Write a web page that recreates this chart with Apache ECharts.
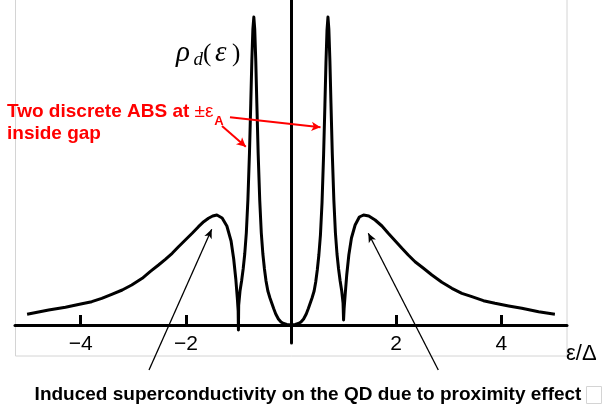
<!DOCTYPE html>
<html><head><meta charset="utf-8">
<script src="https://cdn.jsdelivr.net/npm/echarts@6/dist/echarts.min.js"></script>
<style>html,body{margin:0;padding:0;background:#fff}#c{width:616px;height:410px}</style>
</head><body><div id="c"></div>
<script>
// energy epsilon/Delta
const epsilon = [
 -5.02,-4.61,-4.29,-4.00,-3.79,-3.60,-3.41,-3.21,-3.03,-2.83,-2.68,-2.52,-2.39,-2.26,-2.14,-2.01,-1.88,-1.76,-1.66,-1.57,-1.49,-1.41,
 -1.31,-1.22,-1.14,-1.09,-1.05,-1.02,-1.005,-1.0,-0.995,
 -0.97,-0.94,-0.91,-0.88,-0.85,-0.82,-0.79,-0.765,-0.745,-0.725,-0.707,-0.69,-0.67,-0.65,-0.625,-0.595,-0.565,-0.535,-0.505,-0.475,
 -0.44,-0.40,-0.36,-0.33,-0.29,-0.24,-0.19,-0.14,-0.08,0,
 0.08,0.14,0.19,0.24,0.29,0.33,0.36,0.40,0.44,0.47,0.50,0.53,0.56,0.59,0.62,0.645,0.665,0.685,0.703,
 0.72,0.74,0.76,0.785,0.815,0.845,0.875,0.905,0.935,0.965,0.99,1.0,1.01,
 1.03,1.06,1.10,1.15,1.22,1.30,1.38,1.48,1.60,1.73,1.85,1.98,2.11,2.23,2.36,2.52,2.68,2.87,3.06,3.25,3.44,3.66,3.88,4.14,4.39,4.71,5.02
];
// density of states rho_d(epsilon), arbitrary units
const dos = [
 0.107,0.150,0.177,0.210,0.233,0.267,0.307,0.350,0.400,0.467,0.533,0.600,0.657,0.717,0.783,0.850,0.917,0.983,1.033,1.067,1.090,1.100,
 1.070,0.990,0.840,0.660,0.460,0.260,0.140,-0.050,0.200,
 0.340,0.440,0.560,0.710,0.920,1.250,1.720,2.220,2.640,2.960,3.080,2.960,2.640,2.220,1.720,1.250,0.920,0.710,0.560,0.440,
 0.340,0.270,0.210,0.165,0.110,0.060,0.030,0.015,0.005,0,
 0.005,0.015,0.030,0.060,0.110,0.165,0.210,0.270,0.340,0.430,0.550,0.700,0.900,1.220,1.700,2.200,2.620,2.950,3.080,
 2.960,2.640,2.220,1.720,1.250,0.920,0.710,0.560,0.440,0.340,0.220,0.050,0.160,
 0.300,0.500,0.700,0.870,1.000,1.080,1.100,1.090,1.050,0.990,0.917,0.843,0.767,0.700,0.633,0.567,0.500,0.427,0.367,0.317,0.283,0.243,0.217,0.190,0.167,0.133,0.107
];
const tickValues = [-4, -2, 2, 4];
const tickLabels = {'-4': '\u22124', '-2': '\u22122', '2': '2', '4': '4'};

const chart = echarts.init(document.getElementById('c'));
const curve = epsilon.map((e, i) => [e, dos[i]]);
const sans = '"Liberation Sans", Arial, sans-serif';
const serif = '"Liberation Serif", "Times New Roman", serif';

function txt(x, y, text, size, opts) {
  opts = opts || {};
  return {type: 'text', x: x, y: y, silent: true, z: 10,
    style: {text: text, fontSize: size, fontFamily: opts.family || sans, fontWeight: opts.weight || 'normal',
      fontStyle: opts.style || 'normal', fill: opts.color || '#000', align: 'left', verticalAlign: 'top',
      lineHeight: opts.lineHeight}};
}

chart.setOption({
  animation: false,
  grid: {left: 15, right: 49, top: 0, bottom: 67},
  xAxis: {
    type: 'value', min: -5.25, max: 5.25,
    axisLine: {onZero: true, lineStyle: {color: '#000', width: 3}},
    axisTick: {show: true, inside: true, length: 10, customValues: tickValues, lineStyle: {color: '#000', width: 3}},
    axisLabel: {customValues: tickValues, formatter: v => tickLabels[String(v)], fontSize: 21, color: '#000', margin: -9, fontFamily: sans},
    splitLine: {show: false}
  },
  yAxis: {
    type: 'value', min: -0.18, max: 3.25,
    axisLine: {show: true, onZero: true, lineStyle: {color: '#000', width: 3}},
    axisTick: {show: false}, axisLabel: {show: false}, splitLine: {show: false}
  },
  series: [
    {
      type: 'line', data: curve, showSymbol: false, symbol: 'none', clip: false, silent: true,
      lineStyle: {color: '#000', width: 3, join: 'round'},
      markLine: {
        silent: true, symbol: ['none', 'arrow'], symbolSize: [6, 9], label: {show: false},
        lineStyle: {color: '#000', width: 1.3, type: 'solid'},
        data: [
          [{x: 149, y: 370}, {x: 211.7, y: 229.3}],
          [{x: 438.3, y: 370}, {x: 368.3, y: 233.3}]
        ]
      }
    },
    {
      type: 'line', data: [[0, 0]], showSymbol: false, symbol: 'none', clip: false, silent: true,
      lineStyle: {width: 0, opacity: 0},
      markLine: {
        silent: true, symbol: ['none', 'arrow'], symbolSize: [7, 9], label: {show: false},
        lineStyle: {color: '#ff0000', width: 2, type: 'solid'},
        data: [
          [{x: 222, y: 126}, {x: 245.8, y: 146.7}],
          [{x: 230, y: 117.3}, {x: 320.5, y: 127.3}]
        ]
      }
    }
  ],
  graphic: [
    {type: 'rect', silent: true, z: -1, shape: {x: 15.5, y: -2, width: 551.5, height: 358},
     style: {fill: 'none', stroke: '#d4d4d4', lineWidth: 1}},
    {type: 'rect', silent: true, shape: {x: 586.5, y: 386.5, width: 15, height: 17},
     style: {fill: 'none', stroke: '#d4d4d4', lineWidth: 1}},
    txt(176, 39, '\u03c1', 29, {family: serif, style: 'italic'}),
    txt(193.5, 50.5, 'd', 19, {family: serif, style: 'italic'}),
    txt(203, 42, '(', 25, {family: serif}),
    txt(215, 39, '\u03b5', 29, {family: serif, style: 'italic'}),
    txt(232, 42, ')', 25, {family: serif}),
    txt(7, 100.7, 'Two discrete ABS at\ninside gap', 19, {weight: 'bold', color: '#ff0000', lineHeight: 22}),
    txt(194.5, 102, '\u00b1\u03b5', 19, {color: '#ff0000'}),
    txt(214.3, 115, 'A', 13, {weight: 'bold', color: '#ff0000'}),
    txt(566, 342.5, '\u03b5/\u0394', 22),
    txt(34.6, 385.6, 'Induced superconductivity on the QD due to proximity effect', 19, {weight: 'bold'})
  ]
});
</script>
</body></html>
